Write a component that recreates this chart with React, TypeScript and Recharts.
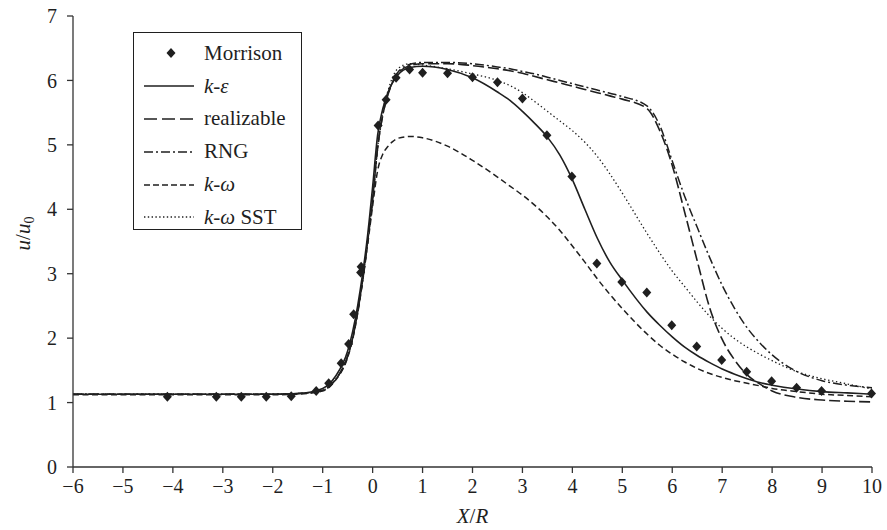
import React from "react"
import { ComposedChart, Line, Scatter, XAxis, YAxis, Legend, Label } from "recharts"

const xGrid = [-6, -5, -4, -3, -2, -1.5, -1, -0.75, -0.5, -0.4, -0.3, -0.2, -0.1, 0, 0.1, 0.2, 0.3, 0.4, 0.5, 0.75, 1, 1.5, 2, 2.5, 2.75, 3, 3.25, 3.5, 3.75, 4, 4.25, 4.5, 4.75, 5, 5.5, 5.75, 6, 6.25, 6.5, 6.75, 7, 7.25, 7.5, 7.75, 8, 8.5, 9, 9.5, 10]

const kEpsilon = [1.13, 1.13, 1.13, 1.13, 1.13, 1.14, 1.22, 1.4, 1.8, 2.1, 2.5, 3.0, 3.6, 4.35, 5.15, 5.55, 5.8, 5.97, 6.08, 6.2, 6.22, 6.17, 6.04, 5.82, 5.69, 5.52, 5.33, 5.12, 4.84, 4.46, 4.0, 3.55, 3.18, 2.9, 2.4, 2.2, 2.02, 1.86, 1.73, 1.62, 1.52, 1.44, 1.37, 1.31, 1.27, 1.21, 1.17, 1.15, 1.13]
const realizable = [1.13, 1.13, 1.13, 1.13, 1.13, 1.14, 1.19, 1.35, 1.72, 2.0, 2.4, 2.9, 3.5, 4.15, 4.95, 5.45, 5.76, 5.97, 6.1, 6.23, 6.26, 6.26, 6.23, 6.18, 6.15, 6.11, 6.06, 6.01, 5.96, 5.91, 5.86, 5.81, 5.76, 5.71, 5.56, 5.22, 4.68, 3.95, 3.2, 2.47, 1.98, 1.66, 1.43, 1.29, 1.18, 1.08, 1.04, 1.02, 1.01]
const rng = [1.13, 1.13, 1.13, 1.13, 1.13, 1.14, 1.19, 1.35, 1.72, 2.0, 2.4, 2.9, 3.5, 4.15, 4.95, 5.45, 5.77, 5.98, 6.12, 6.25, 6.28, 6.28, 6.26, 6.21, 6.18, 6.14, 6.1, 6.05, 6.0, 5.95, 5.9, 5.85, 5.8, 5.75, 5.6, 5.3, 4.75, 4.2, 3.72, 3.25, 2.82, 2.46, 2.16, 1.93, 1.74, 1.48, 1.34, 1.27, 1.23]
const kOmega = [1.12, 1.12, 1.12, 1.12, 1.12, 1.13, 1.18, 1.34, 1.7, 1.98, 2.38, 2.88, 3.45, 4.05, 4.6, 4.85, 4.97, 5.05, 5.1, 5.13, 5.11, 4.98, 4.76, 4.5, 4.36, 4.22, 4.06, 3.88, 3.67, 3.43, 3.18, 2.92, 2.68, 2.46, 2.06, 1.89, 1.75, 1.63, 1.53, 1.45, 1.39, 1.34, 1.3, 1.26, 1.22, 1.17, 1.13, 1.11, 1.09]
const kOmegaSst = [1.13, 1.13, 1.13, 1.13, 1.13, 1.14, 1.19, 1.35, 1.72, 2.0, 2.4, 2.9, 3.5, 4.15, 4.95, 5.5, 5.82, 6.05, 6.18, 6.26, 6.24, 6.18, 6.1, 6.0, 5.92, 5.81, 5.67, 5.52, 5.37, 5.22, 5.04, 4.82, 4.55, 4.25, 3.62, 3.32, 3.04, 2.8, 2.56, 2.34, 2.15, 1.99, 1.86, 1.75, 1.65, 1.48, 1.37, 1.29, 1.21]

const morrisonX = [-4.11, -3.13, -2.63, -2.13, -1.63, -1.13, -0.88, -0.63, -0.48, -0.38, -0.24, -0.23, 0.11, 0.27, 0.47, 0.74, 1.0, 1.5, 2.0, 2.5, 3.0, 3.49, 3.99, 4.49, 4.99, 5.49, 5.99, 6.49, 6.99, 7.49, 7.99, 8.49, 8.99, 9.99]
const morrisonY = [1.09, 1.09, 1.09, 1.09, 1.1, 1.18, 1.3, 1.61, 1.91, 2.37, 3.02, 3.11, 5.3, 5.7, 6.04, 6.17, 6.12, 6.11, 6.05, 5.97, 5.72, 5.15, 4.51, 3.16, 2.87, 2.71, 2.2, 1.87, 1.66, 1.48, 1.33, 1.23, 1.18, 1.14]

const xTicks = [-6, -5, -4, -3, -2, -1, 0, 1, 2, 3, 4, 5, 6, 7, 8, 9, 10]
const yTicks = [0, 1, 2, 3, 4, 5, 6, 7]

const rows = xGrid.map((x, i) => ({
  x,
  ke: kEpsilon[i],
  real: realizable[i],
  rng: rng[i],
  kw: kOmega[i],
  sst: kOmegaSst[i],
}))

const morrison = morrisonX.map((x, i) => ({ x, y: morrisonY[i] }))

const serif = "'Liberation Serif', 'DejaVu Serif', serif"
const ink = "#1f1f1f"

const styles = {
  ke: { dash: undefined, legendDash: undefined, width: 1.6 },
  real: { dash: "11 4", legendDash: "13 5", width: 1.6 },
  rng: { dash: "9 3 2 3", legendDash: "9 3 2 3", width: 1.5 },
  kw: { dash: "6 3.5", legendDash: "6 3", width: 1.5 },
  sst: { dash: "1.4 2.6", legendDash: "1.4 2.4", width: 1.3 },
}

function Diamond(props: any) {
  const { cx, cy } = props
  if (cx == null || cy == null) return null
  return <path d={`M${cx},${cy - 5}L${cx + 4.5},${cy}L${cx},${cy + 5}L${cx - 4.5},${cy}Z`} fill={ink} />
}

const legendRows = [
  { key: "morrison", label: <span>Morrison</span> },
  { key: "ke", label: <span><i>k</i>-<i>ε</i></span> },
  { key: "real", label: <span>realizable</span> },
  { key: "rng", label: <span>RNG</span> },
  { key: "kw", label: <span><i>k</i>-<i>ω</i></span> },
  { key: "sst", label: <span><i>k</i>-<i>ω</i> SST</span> },
]

function LegendBox() {
  return (
    <div
      style={{
        border: `1.3px solid ${ink}`,
        background: "#fff",
        width: 169,
        height: 198,
        boxSizing: "border-box",
        paddingTop: 4,
        fontFamily: serif,
        fontSize: 21,
        color: ink,
      }}
    >
      {legendRows.map((row) => {
        const st = (styles as any)[row.key]
        return (
          <div key={row.key} style={{ display: "flex", alignItems: "center", height: 32.8 }}>
            <svg width={70} height={20} style={{ flex: "none" }}>
              {row.key === "morrison" ? (
                <Diamond cx={37} cy={10} />
              ) : (
                <line x1={10} x2={60} y1={10} y2={10} stroke={ink} strokeWidth={st.width} strokeDasharray={st.legendDash} />
              )}
            </svg>
            {row.label}
          </div>
        )
      })}
    </div>
  )
}

function YLabel(props: any) {
  const vb = props.viewBox
  const x = vb.x + 30
  const y = vb.y + vb.height / 2 - 8
  return (
    <text x={x} y={y} transform={`rotate(-90 ${x} ${y})`} textAnchor="middle" fontFamily={serif} fontSize={21} fill={ink}>
      <tspan fontStyle="italic">u</tspan>
      <tspan>/</tspan>
      <tspan fontStyle="italic">u</tspan>
      <tspan fontSize={14} dy={4}>0</tspan>
    </text>
  )
}

function XLabel(props: any) {
  const vb = props.viewBox
  return (
    <text x={vb.x + vb.width / 2} y={vb.y + 56} textAnchor="middle" fontFamily={serif} fontSize={21} fill={ink}>
      <tspan fontStyle="italic">X</tspan>
      <tspan>/</tspan>
      <tspan fontStyle="italic">R</tspan>
    </text>
  )
}

const minus = (v: number) => String(v).replace("-", "\u2212")

export default function App() {
  const tick = { fill: ink, fontSize: 20, fontFamily: serif }
  return (
    <div style={{ position: "absolute", left: 0, top: 0, background: "#fff" }}>
      <ComposedChart width={887} height={530} data={rows} margin={{ top: 16, right: 15, bottom: 0, left: 0 }}>
        <XAxis
          dataKey="x"
          type="number"
          domain={[-6, 10]}
          ticks={xTicks}
          tickFormatter={minus}
          tick={tick}
          tickSize={6}
          tickMargin={6}
          height={63}
          stroke="#333"
          strokeWidth={1.3}
        >
          <Label content={XLabel} />
        </XAxis>
        <YAxis
          type="number"
          domain={[0, 7]}
          ticks={yTicks}
          tick={tick}
          tickSize={6}
          tickMargin={10}
          width={73}
          stroke="#333"
          strokeWidth={1.3}
        >
          <Label content={YLabel} />
        </YAxis>
        <Legend
          layout="vertical"
          align="center"
          verticalAlign="middle"
          content={() => <LegendBox />}
          wrapperStyle={{ left: 133, top: 32, width: 171, height: 200 }}
        />
        {(["ke", "real", "rng", "kw", "sst"] as const).map((k) => (
          <Line
            key={k}
            dataKey={k}
            type="monotone"
            stroke={ink}
            strokeWidth={styles[k].width}
            strokeDasharray={styles[k].dash}
            dot={false}
            activeDot={false}
            isAnimationActive={false}
          />
        ))}
        <Scatter data={morrison} dataKey="y" shape={Diamond} isAnimationActive={false} />
      </ComposedChart>
    </div>
  )
}
